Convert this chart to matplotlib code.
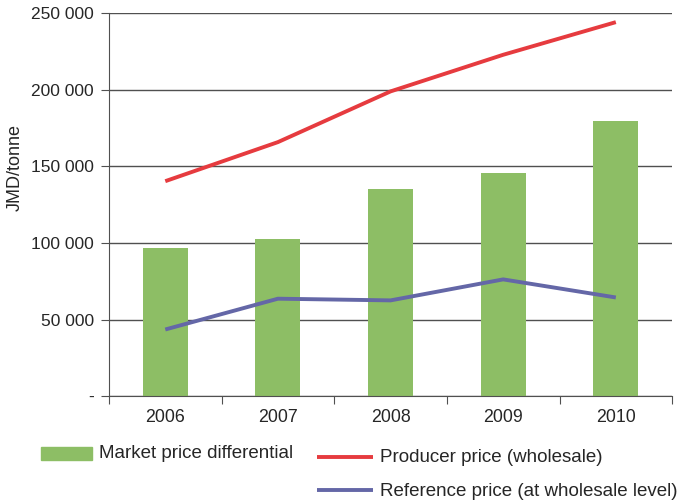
import matplotlib
matplotlib.use("Agg")
import matplotlib.pyplot as plt
from matplotlib.ticker import FuncFormatter
from matplotlib.patches import Rectangle
from matplotlib.lines import Line2D

years = ["2006", "2007", "2008", "2009", "2010"]
market_diff = [97000, 102300, 135400, 145800, 179300]
producer = [140300, 165800, 198900, 222800, 244100]
reference = [43500, 63600, 62500, 76200, 64400]
yticks = [0, 50000, 100000, 150000, 200000, 250000]

GREEN = "#8dbe65"
RED = "#e63b3f"
BLUE = "#6467a7"
TXT = "#262626"
GRID = "#505050"

plt.rcParams['font.family'] = ['Liberation Sans', 'DejaVu Sans']
plt.rcParams['font.size'] = 12.5

W, H = 681, 504
fig = plt.figure(figsize=(W / 100, H / 100), dpi=100)
ax = fig.add_axes([0.160, 0.214, 0.827, 0.760])

x = list(range(len(years)))
ax.bar(x, market_diff, width=0.4, color=GREEN, zorder=2)
ax.plot(x, producer, color=RED, lw=2.8, zorder=3, solid_capstyle='butt')
ax.plot(x, reference, color=BLUE, lw=2.8, zorder=3, solid_capstyle='butt')

ax.set_xlim(-0.5, len(years) - 0.5)
ax.set_ylim(0, 250000)
ax.set_yticks(yticks)

def fmt(v, pos):
    if v == 0:
        return "-"
    return f"{int(v):,}".replace(",", " ")
ax.yaxis.set_major_formatter(FuncFormatter(fmt))
ax.grid(axis='y', color=GRID, lw=1.0, zorder=1)
ax.set_axisbelow(True)

ax.set_xticks([i - 0.5 for i in range(len(years) + 1)])
ax.set_xticklabels([])
ax.set_xticks(x, minor=True)
ax.set_xticklabels(years, minor=True)
ax.tick_params(axis='x', which='major', length=6, color=GRID, direction='out')
ax.tick_params(axis='x', which='minor', length=0, pad=9, labelcolor=TXT, labelsize=12.8)
ax.tick_params(axis='y', length=6, color=GRID, pad=5, labelcolor=TXT, labelsize=12.5)

for s in ['top', 'right']:
    ax.spines[s].set_visible(False)
for s in ['left', 'bottom']:
    ax.spines[s].set_color(GRID)

fig.text(15 / W, 1 - 168 / H, "JMD/tonne", rotation=90, ha='center', va='center',
         color=TXT, fontsize=13)

# legend drawn in figure pixel coordinates
def fx(px):
    return px / W
def fy(py):
    return 1 - py / H

fig.add_artist(Rectangle((fx(41), fy(460)), fx(92) - fx(41), fy(447) - fy(460),
                         transform=fig.transFigure, color=GREEN))
fig.text(fx(99), fy(454), "Market price differential", ha='left', va='center',
         color=TXT, fontsize=13.5)
fig.add_artist(Line2D([fx(317), fx(373)], [fy(457), fy(457)], transform=fig.transFigure,
                      color=RED, lw=2.8, solid_capstyle='butt'))
fig.text(fx(380), fy(458), "Producer price (wholesale)", ha='left', va='center',
         color=TXT, fontsize=13.5)
fig.add_artist(Line2D([fx(317), fx(373)], [fy(490), fy(490)], transform=fig.transFigure,
                      color=BLUE, lw=2.8, solid_capstyle='butt'))
fig.text(fx(380), fy(491), "Reference price (at wholesale level)", ha='left', va='center',
         color=TXT, fontsize=13.5)

fig.savefig("out.png", dpi=100)
